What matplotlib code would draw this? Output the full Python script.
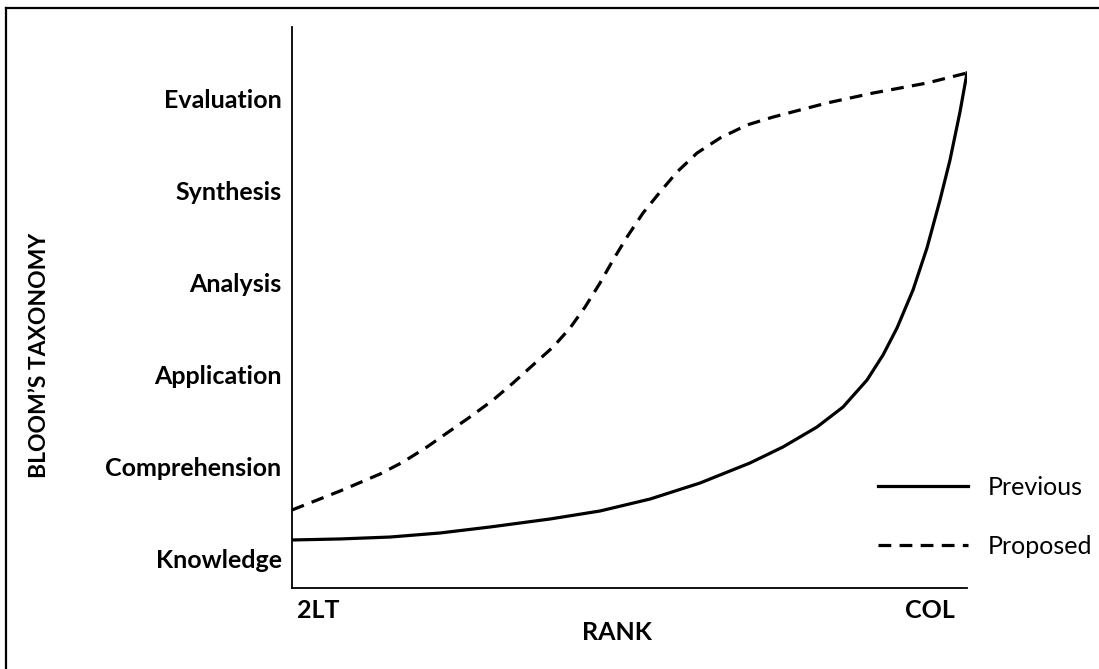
import matplotlib
matplotlib.use("Agg")
import matplotlib.pyplot as plt
from matplotlib.lines import Line2D
import matplotlib.transforms as mtransforms

plt.rcParams['font.family'] = ['Lato', 'DejaVu Sans']

levels = ["Knowledge", "Comprehension", "Application", "Analysis", "Synthesis", "Evaluation"]
rank_labels = ["2LT", "COL"]

prev_x = [0.0, 0.0711, 0.1452, 0.2193, 0.2933, 0.3822, 0.4563, 0.5304, 0.6044,
          0.6785, 0.7274, 0.7778, 0.8163, 0.8519, 0.8756, 0.8963, 0.9200, 0.9407,
          0.9600, 0.9748, 0.9896, 1.0]
prev_y = [0.196, 0.207, 0.228, 0.272, 0.337, 0.424, 0.511, 0.641, 0.815,
          1.033, 1.207, 1.424, 1.641, 1.935, 2.207, 2.500, 2.913, 3.370,
          3.891, 4.326, 4.848, 5.272]

prop_x = [0.0, 0.0711, 0.1304, 0.1644, 0.2000, 0.2296, 0.2637, 0.2978, 0.3274,
          0.3570, 0.3867, 0.4119, 0.4341, 0.4563, 0.4756, 0.4963, 0.5200, 0.5452,
          0.5704, 0.6000, 0.6341, 0.6741, 0.7126, 0.7526, 0.7926, 0.8607, 0.9407, 1.0]
prop_y = [0.522, 0.728, 0.913, 1.043, 1.207, 1.359, 1.533, 1.717, 1.902,
          2.098, 2.293, 2.500, 2.728, 2.989, 3.239, 3.489, 3.750, 3.978,
          4.196, 4.402, 4.565, 4.707, 4.793, 4.870, 4.946, 5.054, 5.163, 5.272]

W, H = 1099, 669
fig = plt.figure(figsize=(W / 100, H / 100), dpi=100)
ax = fig.add_axes([292 / W, 1 - 588 / H, (967 - 292) / W, (588 - 27) / H])

lw = 2.3
ax.plot(prev_x, prev_y, color='black', lw=lw, solid_joinstyle='round', label='Previous')
ax.plot(prop_x, prop_y, color='black', lw=lw, linestyle=(0, (4, 2.6)), label='Proposed')

ax.set_xlim(0, 1)
ax.set_ylim(-0.326, 5.772)
for s in ['top', 'right']:
    ax.spines[s].set_visible(False)
for s in ['left', 'bottom']:
    ax.spines[s].set_linewidth(1.3)

fs = 18
ax.set_yticks(range(len(levels)))
ax.set_yticklabels(levels, fontsize=fs, fontweight='bold')
ax.tick_params(axis='y', length=0, pad=7.5)

ax.set_xticks([0, 1])
ax.set_xticklabels(rank_labels, fontsize=fs, fontweight='bold')
ax.tick_params(axis='x', length=0, pad=8)
labs = ax.get_xticklabels()
labs[0].set_ha('left')
labs[0].set_transform(labs[0].get_transform() + mtransforms.ScaledTranslation(5 / 100, 0, fig.dpi_scale_trans))
labs[1].set_ha('right')
labs[1].set_transform(labs[1].get_transform() + mtransforms.ScaledTranslation(-12 / 100, 0, fig.dpi_scale_trans))

fig.text(617 / W, 1 - 632 / H, "RANK", fontsize=fs, fontweight='bold', ha='center', va='center')
fig.text(40 / W, 1 - 355 / H, "BLOOM\u2019S TAXONOMY", fontsize=16.5, fontweight='bold',
         ha='center', va='center', rotation=90)

leg = ax.legend(loc='upper left', bbox_to_anchor=(878 / W, 1 - 476 / H), bbox_transform=fig.transFigure,
                frameon=False, fontsize=fs, handlelength=3.6, handletextpad=0.8,
                labelspacing=1.42, borderpad=0, borderaxespad=0)

# figure border (top and left edges visible)
fig.add_artist(Line2D([6 / W, 6 / W], [0, 1 - 8 / H], transform=fig.transFigure, color='black', lw=1.6))
fig.add_artist(Line2D([6 / W, 1], [1 - 8 / H, 1 - 8 / H], transform=fig.transFigure, color='black', lw=1.6))

fig.savefig("out.png", dpi=100)
